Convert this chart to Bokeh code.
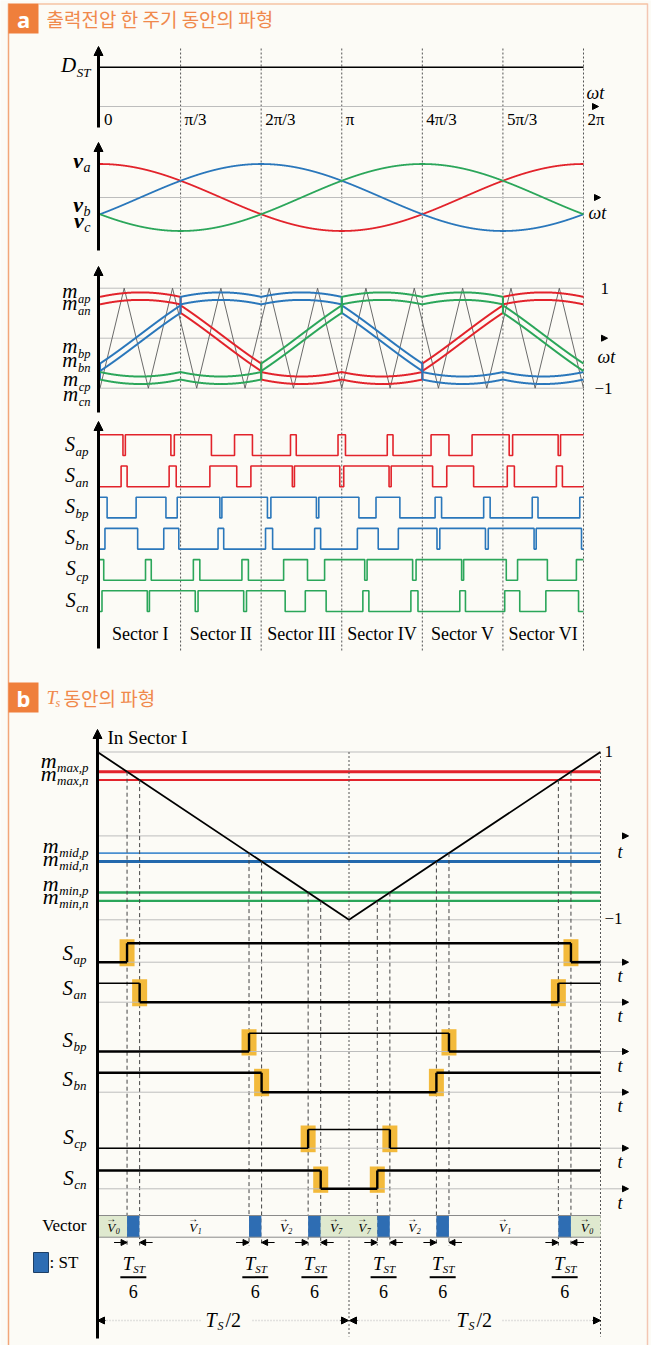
import numpy as np
from bokeh.plotting import figure
from bokeh.models import Range1d, Arrow, NormalHead, ColumnDataSource
from bokeh.embed import file_html
from bokeh.resources import INLINE
from bokeh.core.properties import value

W, H = 651, 1345

# ---------------- data ----------------
sector_tick_labels = ["0", "π/3", "2π/3", "π", "4π/3", "5π/3", "2π"]
sector_names = ["Sector I", "Sector II", "Sector III", "Sector IV", "Sector V", "Sector VI"]
phase_names = ["a", "b", "c"]
phase_angles = [0.0, -2 * np.pi / 3, 2 * np.pi / 3]
ref_amplitude = 0.775      # amplitude of phase references
st_offset = 0.17           # shift of max / min references
pn_gap = 0.15              # separation between p and n references
carrier_periods = 10       # carrier periods per output period
dst_theta = [0.0, 2 * np.pi]
dst_level = [1.0, 1.0]

b_level_names = ["max,p", "max,n", "mid,p", "mid,n", "min,p", "min,n"]
b_levels = [0.765, 0.665, -0.205, -0.305, -0.675, -0.775]
b_carrier_t = [0.0, 0.5, 1.0]
b_carrier_v = [1.0, -1.0, 1.0]
b_switch_names = ["ap", "an", "bp", "bn", "cp", "cn"]
vector_labels = ["0", "ST", "1", "ST", "2", "ST", "7", "7", "ST", "2", "ST", "1", "ST", "0"]

# ---------------- style ----------------
BG = "#fcfbf6"
RED = "#e2232b"
BLUE = "#2a77bb"
GREEN = "#2ba65a"
ORANGE = "#ef7f3c"
PH_COL = [RED, BLUE, GREEN]
SERIF = "Liberation Serif"
GRAY = "#bdbdbd"

A_X0, A_X1 = 99.5, 583.0
B_X0, B_X1 = 97.0, 600.0


def rng(p0, p1, v0, v1, total, vertical=False):
    k = (p1 - p0) / (v1 - v0)
    if not vertical:
        start = v0 - p0 / k
        return Range1d(start=start, end=start + total / k)
    top = v0 - p0 / k
    bot = v0 + (total - p0) / k
    return Range1d(start=bot, end=top)


p = figure(width=W, height=H, x_range=Range1d(0, W), y_range=Range1d(H, 0),
           output_backend="svg", toolbar_location=None, min_border=0,
           x_axis_location=None, y_axis_location=None,
           background_fill_color=BG, border_fill_color=BG, outline_line_color=None)
p.xgrid.visible = False
p.ygrid.visible = False

sa_low = [455.0 + 31.2 * i for i in range(6)]
sa_high = [v - 20.7 for v in sa_low]
sb_high = [942.7, 982.7, 1032.7, 1072.3, 1129.0, 1170.0]
sb_low = [961.7, 1001.7, 1051.0, 1091.7, 1147.7, 1188.3]
MB0, MB1 = 835.4, 751.5

p.extra_x_ranges = {"wt": rng(A_X0, A_X1, 0, 2 * np.pi, W), "ts": rng(B_X0, B_X1, 0, 1, W)}
yr = {"dst": rng(106, 66.7, 0, 1, H, True), "v": rng(197, 163.5, 0, 1, H, True),
      "m": rng(337.7, 287.7, 0, 1, H, True), "mb": rng(MB0, MB1, 0, 1, H, True)}
for i in range(6):
    yr[f"sa{i}"] = rng(sa_low[i], sa_high[i], 0, 1, H, True)
    yr[f"sb{i}"] = rng(sb_low[i], sb_high[i], 0, 1, H, True)
p.extra_y_ranges = yr


def ax(th):
    return A_X0 + th / (2 * np.pi) * (A_X1 - A_X0)


def bx(t):
    return B_X0 + t * (B_X1 - B_X0)


def mby(v):
    return MB0 - (MB0 - MB1) * v


# ---------------- text helpers ----------------
texts = []


def T(x, y, s, size=17, style="normal", align="left", color="black", font=SERIF):
    texts.append((x, y, s, size, style, align, color, font))


WID = {'m': 0.722, 'D': 0.722, 'S': 0.5, 'v': 0.444, 'T': 0.556, 'V': 0.611, 'a': 0.5,
       'p': 0.5, 'n': 0.5, 'b': 0.5, 'c': 0.444, 'x': 0.444, 'i': 0.278, 'd': 0.5,
       ',': 0.25, 't': 0.278, 's': 0.389}


def tw(s, size):
    return sum(WID.get(ch, 0.5) for ch in s) * size


def sublabel(xr, y, main, sub, msize, ssize, dy, style="italic"):
    ws = tw(sub, ssize)
    T(xr - ws - 0.5, y, main, msize, style, "right")
    T(xr - ws, y + dy, sub, ssize, "italic", "left")


def arrow(x0, y0, x1, y1, size=8, color="black", lw=1.0):
    p.add_layout(Arrow(end=NormalHead(size=size, fill_color=color, line_color=color, line_width=1),
                       x_start=x0, y_start=y0, x_end=x1, y_end=y1,
                       line_color=color, line_width=lw))


# ---------------- frame & headers ----------------
p.segment(x0=[8, 647, 38], y0=[3, 3, 3.5], x1=[8, 647, 647], y1=[H, H, 3.5],
          line_color=["#f2a679", "#f3c6b3", "#f6c3a3"], line_width=1.5)
p.quad(left=[8, 8], right=[38, 38], top=[3, 682], bottom=[33, 712], fill_color=ORANGE, line_color=None)
T(23, 18, "a", 22, "bold", "center", "white", "Noto Sans")
T(23, 697, "b", 22, "bold", "center", "white", "Noto Sans")
T(46, 18, "출력전압 한 주기 동안의 파형", 19, "normal", "left", "#f0894c", "Noto Sans CJK KR")
T(46, 697, "T", 19, "italic", "left", "#f0894c")
T(55, 702, "s", 12, "italic", "left", "#f0894c")
T(63, 697, "동안의 파형", 19, "normal", "left", "#f0894c", "Noto Sans CJK KR")

# ---------------- panel a ----------------
theta = np.linspace(0, 2 * np.pi, 30001)
ph = (theta / (2 * np.pi) * carrier_periods) % 1.0
carrier = np.where(ph < 0.5, -1 + 4 * ph, 3 - 4 * ph)
v = np.array([ref_amplitude * np.cos(theta + a) for a in phase_angles])
vmax, vmin = v.max(axis=0), v.min(axis=0)
vstar = v - (vmax + vmin) / 2
is_max = v == vmax
is_min = v == vmin
shift = np.where(is_max, st_offset, np.where(is_min, -st_offset, 0.0))
m_p = vstar + shift + pn_gap / 2
m_n = vstar + shift - pn_gap / 2

# sector dashed lines
sec_th = [k * np.pi / 3 for k in range(1, 7)]
p.segment(x0=sec_th, x1=sec_th, y0=[48] * 6, y1=[652] * 6, x_range_name="wt",
          line_color="#555555", line_dash="2 2", line_width=1)

# D_ST
p.line([0, 2 * np.pi], [0, 0], x_range_name="wt", y_range_name="dst", line_color=GRAY, line_width=1)
arrow(583, 106, 598, 106, size=6, color="black", lw=0.01)
p.line(dst_theta, dst_level, x_range_name="wt", y_range_name="dst", line_color="black", line_width=1.5)
sublabel(90, 64, "D", "ST", 21, 13, 8)
T(586, 92, "ωt", 18, "italic")
for k, lab in enumerate(sector_tick_labels):
    T(ax(k * np.pi / 3) + 4, 119, lab, 17)

# v
p.line([0, 2 * np.pi], [0, 0], x_range_name="wt", y_range_name="v", line_color=GRAY, line_width=1)
arrow(583, 197, 600, 197, size=6, color="black", lw=0.01)
for i in range(3):
    p.line(theta[::10], v[i][::10] / ref_amplitude, x_range_name="wt", y_range_name="v",
           line_color=PH_COL[i], line_width=1.8)
T(588, 212, "ωt", 18, "italic")
for (yy, s) in [(160, "a"), (204, "b"), (220, "c")]:
    sublabel(90, yy, "v", s, 22, 14, 7, "bold italic")

# m
for lv in [1, 0, -1]:
    p.line([0, 2 * np.pi], [lv, lv], x_range_name="wt", y_range_name="m", line_color=GRAY, line_width=1)
arrow(583, 337.7, 607, 337.7, size=6, color="black", lw=0.01)
k_t = np.arange(0, 2 * carrier_periods + 1)
p.line(k_t * np.pi / carrier_periods, np.where(k_t % 2 == 0, -1.0, 1.0), x_range_name="wt", y_range_name="m",
       line_color="#5a5a5a", line_width=0.9)
for i in range(3):
    for arr in (m_p, m_n):
        p.line(theta[::5], arr[i][::5], x_range_name="wt", y_range_name="m",
               line_color=PH_COL[i], line_width=2)
T(600, 288, "1", 17)
T(597, 356, "ωt", 18, "italic")
T(594, 388, "−1", 17)
mlab_y = [(290, "ap"), (302, "an"), (345, "bp"), (359, "bn"), (378, "cp"), (393, "cn")]
for yy, s in mlab_y:
    sublabel(90, yy, "m", s, 21, 12.5, 8)


# switching signals, panel a
def steps(x, s):
    idx = np.nonzero(np.diff(s))[0] + 1
    xs, ys = [x[0]], [s[0]]
    for i in idx:
        xm = 0.5 * (x[i - 1] + x[i])
        xs += [xm, xm]
        ys += [s[i - 1], s[i]]
    xs.append(x[-1])
    ys.append(s[-1])
    return xs, ys


row = 0
for i in range(3):
    sp = (m_p[i] > carrier).astype(int)
    sn = (carrier > m_n[i]).astype(int)
    for s_arr in (sp, sn):
        xs, ys = steps(theta, s_arr)
        p.line(xs, ys, x_range_name="wt", y_range_name=f"sa{row}", line_color=PH_COL[i], line_width=1.6)
        row += 1
for r, s in enumerate(["ap", "an", "bp", "bn", "cp", "cn"]):
    sublabel(88, 443 + 31.2 * r, "S", s, 20, 13, 8)
for k, nm in enumerate(sector_names):
    T(ax((k + 0.5) * np.pi / 3), 633, nm, 18, "normal", "center")

# axis arrows a
for (y0, y1) in [(127, 46), (250, 142), (412, 266), (648, 421)]:
    arrow(98, y0, 98, y1, size=9, lw=3)

# ---------------- panel b ----------------
for lv in [1, 0, -1]:
    p.line([0, 1], [lv, lv], x_range_name="ts", y_range_name="mb", line_color=GRAY, line_width=1)
arrow(600, MB0, 628, MB0, size=6, lw=0.01)
b_lw = [3, 2, 1.6, 2.8, 2.4, 2.4]
b_colv = [RED, RED, "#4a8fd0", "#2369ad", GREEN, GREEN]
for j, lv in enumerate(b_levels):
    p.line([0, 1], [lv, lv], x_range_name="ts", y_range_name="mb", line_color=b_colv[j], line_width=b_lw[j])
p.line(b_carrier_t, b_carrier_v, x_range_name="ts", y_range_name="mb", line_color="black", line_width=1.8)

t_cross = [(1 - lv) / 4 for lv in b_levels]
t_all = t_cross + [1 - t for t in t_cross]
y_all = [mby(lv) for lv in b_levels] * 2
p.segment(x0=t_all, x1=t_all, y0=y_all, y1=[1245] * 12, x_range_name="ts",
          line_color="#444444", line_dash="4 3", line_width=1)
p.segment(x0=[0.5, 1.0], x1=[0.5, 1.0], y0=[MB1, MB1], y1=[1336, 1336], x_range_name="ts",
          line_color="#555555", line_dash="2 2", line_width=1)

T(107, 737, "In Sector I", 19)
T(604, 751, "1", 17)
T(604, 918, "−1", 17)
T(617, 851, "t", 18, "italic")
for (yy, s) in [(760, "max,p"), (773, "max,n"), (845, "mid,p"), (858, "mid,n"), (883, "min,p"), (896, "min,n")]:
    sublabel(88, yy, "m", s, 22, 13, 7)

# switching, panel b: (high-part width, low-part width)
b_sw_lw = [(2.6, 2.6), (1.4, 2.6), (1.4, 2.6), (2.6, 2.6), (1.4, 1.4), (2.6, 2.6)]
for j in range(6):
    t1 = t_cross[j]
    base = 0 if j % 2 == 0 else 1
    p.rect(x=[bx(t1), bx(1 - t1)], y=[(sb_high[j] + sb_low[j]) / 2] * 2, width=15,
           height=sb_low[j] - sb_high[j] + 8, fill_color="#f2b630", line_color=None, fill_alpha=0.95)
    p.line([0, 1], [sb_low[j]] * 2, x_range_name="ts", line_color=GRAY, line_width=1)
    p.line([1, 1.05], [sb_low[j]] * 2, x_range_name="ts", line_color=GRAY, line_width=1)
    arrow(615, sb_low[j], 628, sb_low[j], size=6, lw=0.01)
    hx0 = [0, t1, 1 - t1]
    hx1 = [t1, 1 - t1, 1]
    hy = [base, 1 - base, base]
    hw = [b_sw_lw[j][0] if lvl == 1 else b_sw_lw[j][1] for lvl in hy]
    p.segment(x0=hx0, x1=hx1, y0=hy, y1=hy, x_range_name="ts", y_range_name=f"sb{j}",
              line_color="black", line_width=hw)
    p.segment(x0=[t1, 1 - t1], x1=[t1, 1 - t1], y0=[0, 0], y1=[1, 1], x_range_name="ts",
              y_range_name=f"sb{j}", line_color="black", line_width=2.4)
    T(617, sb_low[j] + 14, "t", 18, "italic")
for (yy, s) in [(952, "ap"), (987, "an"), (1039, "bp"), (1078, "bn"), (1136, "cp"), (1177, "cn")]:
    sublabel(86, yy, "S", s, 21, 13, 7)

# vector band
edges = [0.0] + sorted(t_all[:6]) + [0.5] + sorted(t_all[6:]) + [1.0]
seg_l, seg_r, seg_c = [], [], []
for k, lab in enumerate(vector_labels):
    seg_l.append(edges[k])
    seg_r.append(edges[k + 1])
    seg_c.append("#2e6db3" if lab == "ST" else ("#dfe9cf" if lab in ("0", "7") else BG))
p.quad(left=seg_l, right=seg_r, top=[1215] * 14, bottom=[1236.7] * 14, x_range_name="ts",
       fill_color=seg_c, line_color=None)
p.line([0, 1], [1215, 1215], x_range_name="ts", line_color="#8a8a8a", line_width=1)
p.line([0, 1], [1236.7, 1236.7], x_range_name="ts", line_color="#8a8a8a", line_width=1)
for k, lab in enumerate(vector_labels):
    cx = bx((edges[k] + edges[k + 1]) / 2)
    if lab == "ST":
        xa, xb = bx(edges[k]), bx(edges[k + 1])
        arrow(xa - 13, 1242, xa, 1242, size=6, lw=1)
        arrow(xb + 13, 1242, xb, 1242, size=6, lw=1)
        T(cx, 1263, "T", 19, "italic", "right")
        T(cx, 1268, "ST", 11, "italic", "left")
        p.segment(x0=[cx - 13], x1=[cx + 13], y0=[1276.7], y1=[1276.7], line_color="black", line_width=2)
        T(cx, 1291, "6", 18, "normal", "center")
    else:
        T(cx - 1, 1227, "V", 13, "italic", "center")
        T(cx + 3.5, 1230, lab, 8, "italic", "left")
        T(cx - 1, 1218, "→", 10, "normal", "center")

T(86, 1225, "Vector", 17, "normal", "right")
p.quad(left=[33], right=[48], top=[1252], bottom=[1272], fill_color="#2e6db3", line_color="#1d3f66")
T(49, 1262, ": ST", 17)

# Ts/2
for (xa, xb, g0, g1, lx) in [(97, 348, 200, 252, 205), (349, 600, 450, 502, 456)]:
    p.segment(x0=[xa + 6, g1], x1=[g0, xb - 6], y0=[1320, 1320], y1=[1320, 1320],
              line_color="#c8c8c8", line_dash="1 2", line_width=1.5)
    arrow(xa + 8, 1320, xa, 1320, size=7, lw=1)
    arrow(xb - 8, 1320, xb, 1320, size=7, lw=1)
    T(lx, 1319, "T", 20, "italic")
    T(lx + 12, 1325, "S", 12, "italic")
    T(lx + 20, 1319, "/2", 20)

arrow(97, 1338, 97, 729, size=9, lw=3)

# ---------------- draw texts ----------------
groups = {}
for (x, y, s, size, style, align, color, font) in texts:
    groups.setdefault((size, style, align, color, font), []).append((x, y, s))
for (size, style, align, color, font), items in groups.items():
    src = ColumnDataSource(dict(x=[a[0] for a in items], y=[a[1] for a in items], t=[a[2] for a in items]))
    p.text(x="x", y="y", text="t", source=src, text_font=value(font), text_font_size=f"{size}px",
           text_font_style=style, text_align=align, text_baseline="middle", text_color=color)

open("out.html", "w").write(file_html(p, INLINE))
